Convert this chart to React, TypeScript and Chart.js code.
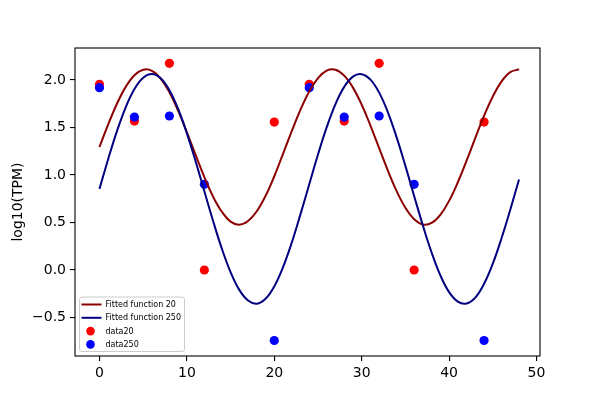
import { useEffect, useRef } from "react"
import { Chart, registerables } from "chart.js"

Chart.register(...registerables)

// x positions of the fitted curves (read every 1 unit off the plot)
const curveX = [
  0, 1, 2, 3, 4, 5, 6, 7, 8, 9, 10, 11, 12, 13, 14, 15, 16, 17, 18, 19, 20, 21, 22, 23, 24,
  25, 26, 27, 28, 29, 30, 31, 32, 33, 34, 35, 36, 37, 38, 39, 40, 41, 42, 43, 44, 45, 46, 47, 48,
]

const fitted20 = [
  1.295, 1.533, 1.75, 1.928, 2.051, 2.109, 2.097, 2.015, 1.871, 1.677, 1.45, 1.211, 0.978, 0.772,
  0.613, 0.509, 0.477, 0.516, 0.619, 0.78, 0.987, 1.223, 1.463, 1.689, 1.88, 2.021, 2.099, 2.108,
  2.046, 1.92, 1.74, 1.521, 1.283, 1.046, 0.83, 0.656, 0.534, 0.48, 0.496, 0.581, 0.728, 0.924,
  1.151, 1.392, 1.624, 1.827, 1.985, 2.083, 2.113,
]

const fitted250 = [
  0.854, 1.169, 1.462, 1.713, 1.905, 2.024, 2.063, 2.018, 1.893, 1.696, 1.439, 1.144, 0.829, 0.516,
  0.225, -0.023, -0.209, -0.321, -0.354, -0.303, -0.172, 0.03, 0.289, 0.588, 0.903, 1.216, 1.504,
  1.747, 1.928, 2.036, 2.061, 2.004, 1.867, 1.66, 1.396, 1.096, 0.78, 0.469, 0.184, -0.056, -0.233,
  -0.332, -0.352, -0.29, -0.145, 0.067, 0.335, 0.635, 0.953,
]

// sample times and measured values
const sampleX = [0, 4, 8, 12, 20, 24, 28, 32, 36, 44]
const data20 = [1.955, 1.568, 2.176, 0.0, 1.557, 1.955, 1.568, 2.176, 0.0, 1.557]
const data250 = [1.919, 1.61, 1.621, 0.902, -0.742, 1.919, 1.61, 1.621, 0.902, -0.742]

const xTicks = [0, 10, 20, 30, 40, 50]
const yTicks = [-0.5, 0.0, 0.5, 1.0, 1.5, 2.0]

const FONT = "'DejaVu Sans', sans-serif"

const toPoints = (xs: number[], ys: number[]) => xs.map((x, i) => ({ x, y: ys[i] }))

// spines on all four sides
const frame = {
  id: "frame",
  afterDraw(chart: any) {
    const { ctx, chartArea } = chart
    ctx.save()
    ctx.strokeStyle = "#000"
    ctx.lineWidth = 1.1
    ctx.strokeRect(chartArea.left, chartArea.top, chartArea.right - chartArea.left, chartArea.bottom - chartArea.top)
    ctx.restore()
  },
}

// matplotlib-like legend in the lower left corner
const cornerLegend = {
  id: "cornerLegend",
  afterDraw(chart: any) {
    const { ctx, chartArea } = chart
    const sets = chart.data.datasets
    const x0 = chartArea.left + 4.5
    const w = 105
    const h = 54.5
    const y0 = chartArea.bottom - 4.5 - h
    ctx.save()
    ctx.beginPath()
    ctx.roundRect(x0, y0, w, h, 2.5)
    ctx.fillStyle = "rgba(255,255,255,0.8)"
    ctx.fill()
    ctx.strokeStyle = "#cccccc"
    ctx.lineWidth = 1
    ctx.stroke()
    ctx.font = `8px ${FONT}`
    ctx.textBaseline = "middle"
    ctx.fillStyle = "#000"
    const rows = [sets[1], sets[0], sets[3], sets[2]]
    rows.forEach((ds: any, i: number) => {
      const cy = y0 + 7.5 + i * 13.3
      if (ds.showLine) {
        ctx.beginPath()
        ctx.moveTo(x0 + 2, cy)
        ctx.lineTo(x0 + 22, cy)
        ctx.strokeStyle = ds.borderColor
        ctx.lineWidth = 2
        ctx.stroke()
      } else {
        ctx.beginPath()
        ctx.arc(x0 + 11, cy, 4.3, 0, Math.PI * 2)
        ctx.fillStyle = ds.backgroundColor
        ctx.fill()
      }
      ctx.fillStyle = "#000"
      ctx.fillText(ds.label, x0 + 26, cy + 0.5)
    })
    ctx.restore()
  },
}

const fmt = (v: number) => v.toFixed(1).replace("-", "\u2212")

export default function App() {
  const canvasRef = useRef<HTMLCanvasElement>(null)
  const chartRef = useRef<Chart | null>(null)

  useEffect(() => {
    document.body.style.margin = "0"
    if (!canvasRef.current) return
    if (chartRef.current) chartRef.current.destroy()

    chartRef.current = new Chart(canvasRef.current, {
      type: "scatter",
      data: {
        datasets: [
          {
            label: "Fitted function 250",
            data: toPoints(curveX, fitted250),
            showLine: true,
            tension: 0.4,
            borderColor: "#000080",
            borderWidth: 2,
            pointRadius: 0,
            order: 0,
          },
          {
            label: "Fitted function 20",
            data: toPoints(curveX, fitted20),
            showLine: true,
            tension: 0.4,
            borderColor: "#8b0000",
            borderWidth: 2,
            pointRadius: 0,
            order: 1,
          },
          {
            label: "data250",
            data: toPoints(sampleX, data250),
            backgroundColor: "#0000ff",
            borderWidth: 0,
            pointRadius: 4.6,
            order: 2,
          },
          {
            label: "data20",
            data: toPoints(sampleX, data20),
            backgroundColor: "#ff0000",
            borderWidth: 0,
            pointRadius: 4.6,
            order: 3,
          },
        ],
      },
      options: {
        responsive: false,
        animation: false,
        layout: { padding: { top: 48, right: 60, left: 0, bottom: 0 } },
        plugins: {
          legend: { display: false },
          tooltip: { enabled: false },
        },
        scales: {
          x: {
            type: "linear",
            min: -2.8,
            max: 50.4,
            afterBuildTicks: (s: any) => {
              s.ticks = xTicks.map((value) => ({ value }))
            },
            afterFit: (s: any) => {
              s.height = 44
            },
            grid: { drawOnChartArea: false, drawTicks: true, tickLength: 5, color: "#000", lineWidth: 1.1 },
            border: { display: false },
            ticks: { color: "#000", padding: 4, font: { family: FONT, size: 14 }, callback: (v: any) => String(v) },
          },
          y: {
            type: "linear",
            min: -0.905,
            max: 2.337,
            afterBuildTicks: (s: any) => {
              s.ticks = yTicks.map((value) => ({ value }))
            },
            afterFit: (s: any) => {
              s.width = 75
            },
            grid: { drawOnChartArea: false, drawTicks: true, tickLength: 5, color: "#000", lineWidth: 1.1 },
            border: { display: false },
            ticks: { color: "#000", padding: 4, font: { family: FONT, size: 14 }, callback: (v: any) => fmt(Number(v)) },
            title: {
              display: true,
              text: "log10(TPM)",
              color: "#000",
              font: { family: FONT, size: 14 },
              padding: { top: 10, bottom: 0 },
            },
          },
        },
      },
      plugins: [frame, cornerLegend],
    })

    return () => {
      if (chartRef.current) {
        chartRef.current.destroy()
        chartRef.current = null
      }
    }
  }, [])

  return (
    <div style={{ width: 600, height: 400, background: "#fff" }}>
      <canvas ref={canvasRef} width={600} height={400} />
    </div>
  )
}
